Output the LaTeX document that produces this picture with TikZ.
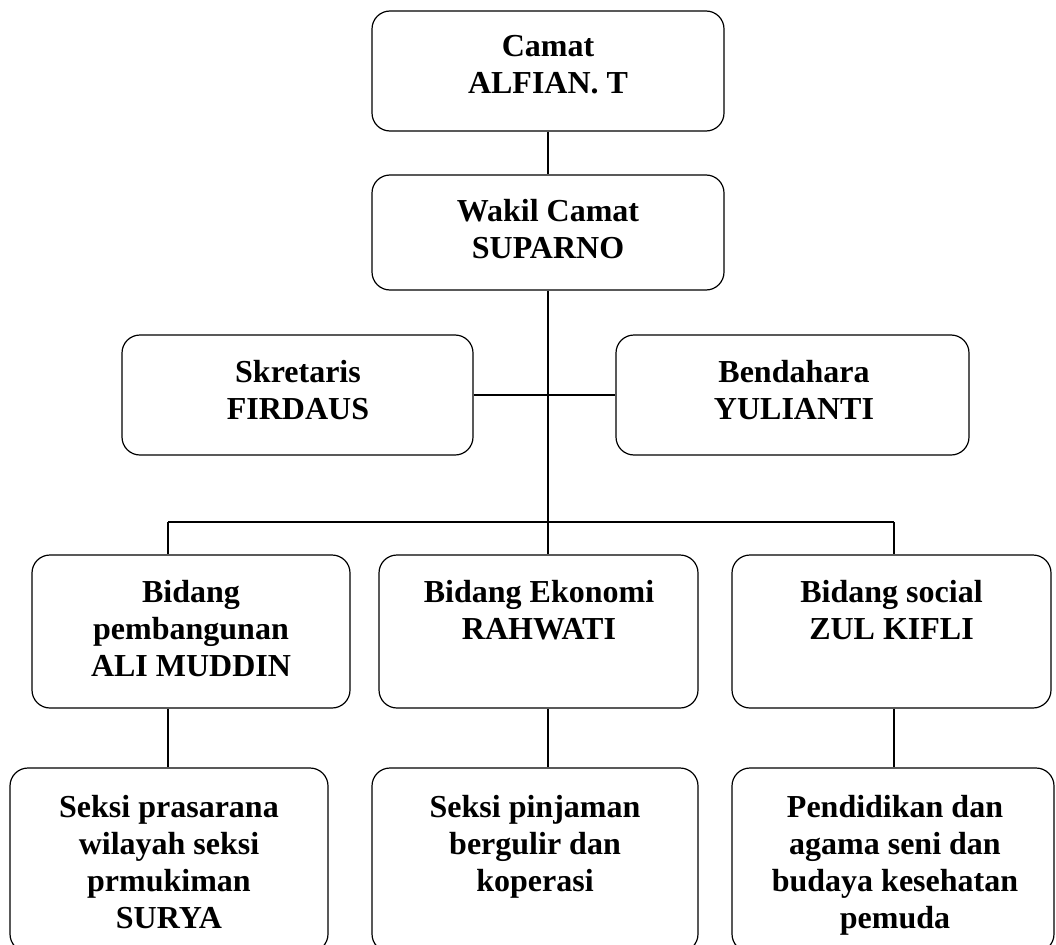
\documentclass[tikz,border=0pt]{standalone}
\usepackage{fontspec}
\setmainfont{Liberation Serif}
\newcommand\boxlines[1]{\begin{tabular}[t]{@{}c@{}}#1\end{tabular}}
\begin{document}
\begin{tikzpicture}[x=1pt,y=-1pt,
  orgbox/.style={draw=black, line width=1.2pt, rounded corners=18pt, rectangle, inner sep=0pt},
  orgtext/.style={anchor=base, inner sep=0pt, font=\fontsize{32}{37}\selectfont\bfseries},
  link/.style={draw=black, line width=1.2pt}]
\useasboundingbox (0,0) rectangle (1056,944);
\clip (0,0) rectangle (1056,944);
% boxes
\node[orgbox, minimum width=352pt, minimum height=120pt] (camat) at (548,71) {};
\node[orgbox, minimum width=352pt, minimum height=115pt] (wakil) at (548,232.5) {};
\node[orgbox, minimum width=351pt, minimum height=120pt] (skret) at (297.5,395) {};
\node[orgbox, minimum width=353pt, minimum height=120pt] (bend) at (792.5,395) {};
\node[orgbox, minimum width=318pt, minimum height=153pt] (pemb) at (191,631.5) {};
\node[orgbox, minimum width=319pt, minimum height=153pt] (ekon) at (538.5,631.5) {};
\node[orgbox, minimum width=319pt, minimum height=153pt] (sos) at (891.5,631.5) {};
\node[orgbox, minimum width=318pt, minimum height=184pt] (seksiA) at (169,860) {};
\node[orgbox, minimum width=326pt, minimum height=184pt] (seksiB) at (535,860) {};
\node[orgbox, minimum width=322pt, minimum height=184pt] (seksiC) at (893,860) {};
% texts
\node[orgtext] (tcamat) at (548,57) {\boxlines{Camat\\ALFIAN. T}};
\node[orgtext] (twakil) at (548,221) {\boxlines{Wakil Camat\\SUPARNO}};
\node[orgtext] (tskret) at (298,382) {\boxlines{Skretaris\\FIRDAUS}};
\node[orgtext] (tbend) at (794,382) {\boxlines{Bendahara\\YULIANTI}};
\node[orgtext] (tpemb) at (191,602) {\boxlines{Bidang\\pembangunan\\ALI MUDDIN}};
\node[orgtext] (tekon) at (539,602) {\boxlines{Bidang Ekonomi\\RAHWATI}};
\node[orgtext] (tsos) at (891.5,602) {\boxlines{Bidang social\\ZUL KIFLI}};
\node[orgtext] (tseksiA) at (169,817) {\boxlines{Seksi prasarana\\wilayah seksi\\prmukiman\\SURYA}};
\node[orgtext] (tseksiB) at (535,817) {\boxlines{Seksi pinjaman\\bergulir dan\\koperasi}};
\node[orgtext] (tseksiC) at (895,817) {\boxlines{Pendidikan dan\\agama seni dan\\budaya kesehatan\\pemuda}};
% connectors
\coordinate (hub) at (548,522);
\coordinate (jl) at (168,522);
\coordinate (jr) at (894,522);
\draw[link] (camat.south) -- (wakil.north);
\draw[link] (wakil.south) -- (hub);
\draw[link] (skret.east) -- (bend.west);
\draw[link] (jl) -- (jr);
\draw[link] (jl) -- (jl |- pemb.north);
\draw[link] (hub) -- (hub |- ekon.north);
\draw[link] (jr) -- (jr |- sos.north);
\draw[link] (jl |- pemb.south) -- (jl |- seksiA.north);
\draw[link] (hub |- ekon.south) -- (hub |- seksiB.north);
\draw[link] (jr |- sos.south) -- (jr |- seksiC.north);
\end{tikzpicture}
\end{document}
